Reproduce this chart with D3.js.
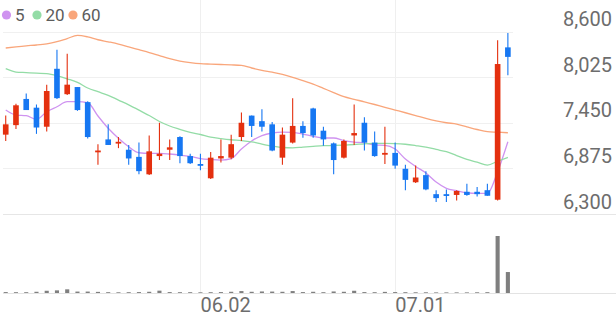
<!DOCTYPE html>
<html>
<head>
<meta charset="utf-8">
<script src="https://cdn.jsdelivr.net/npm/d3@7"></script>
<style>
  html, body { margin: 0; padding: 0; background: #fff; }
  svg { display: block; }
</style>
</head>
<body>
<div id="chart"></div>
<script>
// daily candles, 2025-05-02 .. 2025-07-16
const dates = [
  '2025-05-02', '2025-05-07', '2025-05-08', '2025-05-09', '2025-05-12', '2025-05-13', '2025-05-14', '2025-05-15',
  '2025-05-16', '2025-05-19', '2025-05-20', '2025-05-21', '2025-05-22', '2025-05-23', '2025-05-26', '2025-05-27',
  '2025-05-28', '2025-05-29', '2025-05-30', '2025-06-02', '2025-06-04', '2025-06-05', '2025-06-09', '2025-06-10',
  '2025-06-11', '2025-06-12', '2025-06-13', '2025-06-16', '2025-06-17', '2025-06-18', '2025-06-19', '2025-06-20',
  '2025-06-23', '2025-06-24', '2025-06-25', '2025-06-26', '2025-06-27', '2025-06-30', '2025-07-01', '2025-07-02',
  '2025-07-03', '2025-07-04', '2025-07-07', '2025-07-08', '2025-07-09', '2025-07-10', '2025-07-11', '2025-07-14',
  '2025-07-15', '2025-07-16'
];
const open = [
  7300, 7420, 7750, 7640, 7400, 8130, 7810, 7900, 7710, 7090, 7240, 7190, 7110, 7020, 6800, 7030, 7110,
  7270, 7030, 6930, 6750, 7000, 7010, 7270, 7540, 7470, 7430, 7010, 7200, 7410, 7630, 7350, 7190, 7010,
  7290, 7450, 7200, 7050, 7070, 6870, 6700, 6790, 6550, 6550, 6540, 6580, 6580, 6600, 6480, 8400
];
const high = [
  7540, 7690, 7820, 7680, 7930, 8370, 8320, 7900, 7720, 7180, 7430, 7270, 7170, 7200, 7290, 7450, 7240,
  7280, 7060, 7060, 7080, 7240, 7300, 7580, 7540, 7620, 7460, 7390, 7760, 7470, 7640, 7400, 7200, 7240,
  7680, 7520, 7340, 7400, 7200, 6920, 6910, 6840, 6600, 6610, 6600, 6680, 6640, 6680, 8490, 8580
];
const low = [
  7220, 7370, 7610, 7310, 7340, 7750, 7800, 7600, 7250, 6920, 7170, 7130, 6920, 6800, 6790, 6980, 6980,
  6940, 6930, 6850, 6740, 6950, 6990, 7220, 7270, 7340, 7090, 6920, 7190, 7260, 7260, 7160, 6800, 7000,
  7170, 7100, 7020, 6930, 6870, 6600, 6690, 6600, 6450, 6450, 6470, 6530, 6520, 6530, 6470, 8050
];
const close = [
  7430, 7670, 7610, 7390, 7850, 7760, 7930, 7610, 7270, 7100, 7170, 7210, 7000, 6840, 7090, 7060, 7140,
  7030, 6940, 6910, 7010, 7030, 7180, 7450, 7410, 7400, 7100, 7300, 7410, 7320, 7290, 7240, 6980, 7220,
  7320, 7200, 7030, 7070, 6910, 6730, 6760, 6610, 6500, 6540, 6590, 6540, 6550, 6530, 8190, 8280
];
const volume = [
  45000, 40000, 40000, 60000, 110000, 130000, 180000, 70000, 70000, 55000, 40000, 35000, 40000, 45000,
  60000, 115000, 45000, 40000, 40000, 35000, 40000, 45000, 60000, 95000, 60000, 75000, 70000, 60000,
  95000, 45000, 60000, 40000, 75000, 60000, 110000, 45000, 40000, 55000, 45000, 40000, 35000, 35000,
  30000, 30000, 30000, 30000, 35000, 40000, 2800000, 1030000
];
// moving averages as drawn
const ma5 = [
  7610, 7547, 7539, 7493, 7589, 7652, 7715, 7715, 7702, 7535, 7380, 7254, 7148, 7072, 7065, 7065, 7056,
  7043, 7025, 6999, 6987, 6980, 6999, 7119, 7220, 7289, 7321, 7333, 7329, 7308, 7279, 7258, 7258, 7226,
  7207, 7195, 7169, 7166, 7119, 6993, 6899, 6817, 6703, 6624, 6594, 6568, 6561, 6561, 6833, 7211
];
const ma20 = [
  8131, 8089, 8082, 8075, 8070, 8045, 8004, 7959, 7888, 7841, 7796, 7736, 7676, 7610, 7541, 7466, 7409,
  7367, 7329, 7302, 7270, 7251, 7236, 7226, 7210, 7182, 7157, 7138, 7134, 7144, 7153, 7161, 7164, 7169,
  7176, 7185, 7191, 7191, 7188, 7179, 7163, 7144, 7113, 7085, 7037, 6989, 6953, 6917, 6965, 7014
];
const ma60 = [
  8392, 8407, 8420, 8430, 8445, 8472, 8511, 8551, 8532, 8496, 8470, 8442, 8407, 8371, 8335, 8296, 8257,
  8228, 8208, 8194, 8189, 8184, 8179, 8172, 8140, 8111, 8087, 8060, 8023, 7980, 7938, 7884, 7830, 7778,
  7745, 7714, 7680, 7644, 7610, 7576, 7541, 7505, 7474, 7450, 7434, 7399, 7365, 7337, 7331, 7324
];
const priceTicks = [6300, 6875, 7450, 8025, 8600];
const dateTicks = ['2025-06-02', '2025-07-01'];
const maLabels = ['5', '20', '60'];

const width = 616;
const height = 321;
const plotRight = 513;
const upColor = '#e4300f';
const downColor = '#1677f2';
const maColors = ['#cf93f0', '#93dca6', '#f9a67b'];
const legendX = [6.5, 37, 73];
const font = 'Roboto, "Noto Sans", sans-serif';

const candles = dates.map((d, i) => ({
  date: d, o: open[i], h: high[i], l: low[i], c: close[i], v: volume[i]
}));
const maSeries = [ma5, ma20, ma60];

const x = d3.scaleBand()
  .domain(dates)
  .range([0.6, plotRight])
  .padding(0);
const cx = d => x(d) + x.bandwidth() / 2;

const y = d3.scaleLinear()
  .domain([6300, 8600])
  .range([214, 31.5]);

const yVol = d3.scaleLinear()
  .domain([0, d3.max(volume)])
  .range([293, 236]);

const svg = d3.create('svg')
  .attr('width', width)
  .attr('height', height)
  .attr('viewBox', [0, 0, width, height])
  .style('font-family', font);

svg.append('rect')
  .attr('width', width)
  .attr('height', height)
  .attr('fill', '#fff');

// grid
const grid = svg.append('g').attr('shape-rendering', 'crispEdges');

grid.selectAll('.vgrid')
  .data(dateTicks)
  .join('line')
  .attr('x1', d => Math.round(cx(d)) + 0.5)
  .attr('x2', d => Math.round(cx(d)) + 0.5)
  .attr('y1', 0)
  .attr('y2', yVol(0))
  .attr('stroke', '#efefef');

grid.selectAll('.hgrid')
  .data(priceTicks)
  .join('line')
  .attr('x1', 3)
  .attr('x2', d => d === y.domain()[0] ? width : plotRight)
  .attr('y1', d => Math.round(y(d)) + 0.5)
  .attr('y2', d => Math.round(y(d)) + 0.5)
  .attr('stroke', d => d === y.domain()[0] ? '#e6e6e6' : '#f0f0f0');

grid.append('line')
  .attr('x1', 3)
  .attr('x2', width)
  .attr('y1', Math.round(yVol(0)) + 0.5)
  .attr('y2', Math.round(yVol(0)) + 0.5)
  .attr('stroke', '#e3e3e3');

// y axis labels, right side, sitting above each grid line
svg.append('g')
  .attr('transform', `translate(612,0)`)
  .call(d3.axisLeft(y).tickValues(priceTicks).tickSize(0).tickPadding(0).tickFormat(d3.format(',')))
  .call(g => g.select('.domain').remove())
  .call(g => g.selectAll('text')
    .attr('dy', null)
    .attr('y', -6)
    .attr('fill', '#6d6d6d')
    .style('font-size', '20px')
    .style('font-family', font));

// x axis labels, start at the grid line
svg.append('g')
  .attr('transform', `translate(0,${yVol(0)})`)
  .call(d3.axisBottom(x).tickValues(dateTicks).tickSize(0)
    .tickFormat(d => d.slice(5).replace('-', '.')))
  .call(g => g.select('.domain').remove())
  .call(g => g.selectAll('text')
    .attr('dy', null)
    .attr('y', 19)
    .attr('text-anchor', 'start')
    .attr('fill', '#6d6d6d')
    .style('font-size', '20px')
    .style('font-family', font));

// moving averages
const line = d3.line()
  .x((d, i) => cx(dates[i]))
  .y(d => y(d))
  .curve(d3.curveMonotoneX);

svg.append('g')
  .selectAll('path')
  .data(maSeries)
  .join('path')
  .attr('fill', 'none')
  .attr('stroke', (d, i) => maColors[i])
  .attr('stroke-width', 1.3)
  .attr('d', line);

// candles
const color = d => d.c >= d.o ? upColor : downColor;
const bodyW = x.bandwidth() * 0.55;

const cg = svg.append('g');
cg.selectAll('line')
  .data(candles)
  .join('line')
  .attr('x1', d => cx(d.date))
  .attr('x2', d => cx(d.date))
  .attr('y1', d => y(d.h))
  .attr('y2', d => y(d.l))
  .attr('stroke', color)
  .attr('stroke-width', 1.1);

cg.selectAll('rect')
  .data(candles)
  .join('rect')
  .attr('x', d => cx(d.date) - bodyW / 2)
  .attr('y', d => y(Math.max(d.o, d.c)))
  .attr('width', bodyW)
  .attr('height', d => Math.max(1.8, Math.abs(y(d.o) - y(d.c))))
  .attr('fill', color);

// volume
const volW = x.bandwidth() * 0.4;
svg.append('g')
  .selectAll('rect')
  .data(candles)
  .join('rect')
  .attr('x', d => cx(d.date) - volW / 2)
  .attr('y', d => yVol(d.v))
  .attr('width', volW)
  .attr('height', d => yVol(0) - yVol(d.v))
  .attr('fill', '#7f7f7f');

// legend
const legend = svg.append('g')
  .attr('transform', 'translate(0,15)')
  .selectAll('g')
  .data(maLabels)
  .join('g')
  .attr('transform', (d, i) => `translate(${legendX[i]},0)`);

legend.append('circle')
  .attr('r', 4.6)
  .attr('fill', (d, i) => maColors[i]);

legend.append('text')
  .attr('x', 8.5)
  .attr('y', 6)
  .attr('fill', '#5c5c5c')
  .style('font-size', '17px')
  .text(d => d);

d3.select('#chart').append(() => svg.node());
</script>
</body>
</html>
